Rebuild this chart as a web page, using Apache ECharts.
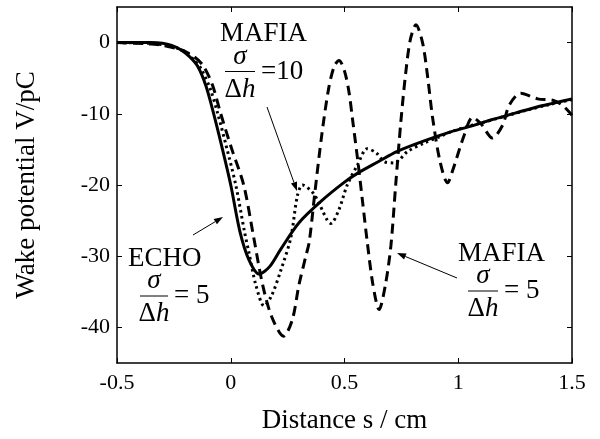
<!DOCTYPE html>
<html><head><meta charset="utf-8">
<script src="https://cdn.jsdelivr.net/npm/echarts@6/dist/echarts.min.js"></script>
<style>html,body{margin:0;padding:0;background:#fff}#c{width:600px;height:439px}</style>
</head><body><div id="c"></div>
<script>
// ECHO sigma/dh = 5 (solid)
const sEcho = [-0.5,-0.35,-0.3,-0.26,-0.22,-0.18,-0.146,-0.11,-0.075,-0.04,0,0.04,0.08,0.125,0.17,0.22,0.3,0.4,0.5,0.56,0.65,0.73,0.85,0.97,1.06,1.15,1.25,1.35,1.42,1.5];
const vEcho = [0,0,-0.1,-0.4,-1.0,-2.0,-3.3,-6,-10,-14.5,-20,-26.5,-30.5,-32.5,-31.5,-29,-25.3,-22.2,-19.6,-18.3,-16.7,-15.3,-13.8,-12.5,-11.7,-10.8,-9.9,-9,-8.5,-7.9];
// MAFIA sigma/dh = 10 (dotted)
const sMafia10 = [-0.5,-0.35,-0.3,-0.25,-0.2,-0.16,-0.13,-0.09,-0.057,-0.02,0.022,0.06,0.08,0.11,0.147,0.18,0.22,0.264,0.293,0.315,0.366,0.425,0.44,0.475,0.512,0.557,0.6,0.64,0.674,0.718,0.777,0.85,0.92,0.97,1.05,1.1,1.2,1.3,1.4,1.5];
const vMafia10 = [0,-0.1,-0.3,-0.6,-1.3,-2.5,-3.7,-6.5,-10,-14.5,-20,-26.5,-29.5,-34,-37,-35.5,-32,-27.4,-21.5,-20,-21.3,-25,-25.4,-23.5,-20,-17.2,-14.9,-15.5,-16.7,-16.9,-15.3,-14.1,-13.2,-12.5,-11.7,-11.3,-10.4,-9.5,-8.7,-8.0];
// MAFIA sigma/dh = 5 (dashed)
const sMafia5 = [-0.5,-0.35,-0.3,-0.22,-0.16,-0.12,-0.08,-0.044,0.005,0.057,0.1,0.14,0.18,0.232,0.27,0.3,0.33,0.345,0.37,0.4,0.43,0.455,0.476,0.5,0.52,0.535,0.56,0.58,0.6,0.625,0.652,0.68,0.704,0.725,0.748,0.77,0.79,0.814,0.843,0.865,0.887,0.92,0.953,0.975,1.026,1.063,1.1,1.15,1.195,1.224,1.275,1.349,1.415,1.458,1.5];
const vMafia5 = [0,-0.2,-0.4,-1,-2,-3.3,-6,-10,-15,-20,-27.2,-34,-38.5,-41.25,-39,-34,-30,-28,-21,-13,-6.5,-3.3,-2.5,-4,-7,-10.7,-17,-22.5,-28,-34,-37.5,-34,-28.5,-20,-11,-4,0.5,2.5,0,-4.7,-10.5,-16.7,-19.7,-18,-13,-10.5,-11.4,-13.4,-11.6,-8.8,-7.1,-7.9,-8.1,-8.8,-10.2];

const xTicks = [-0.5,0,0.5,1,1.5];
const yTicks = [-40,-30,-20,-10,0];
const xTitle = 'Distance s / cm';
const yTitle = 'Wake potential V/pC';

const pairs = (s,v)=>s.map((x,i)=>[x,v[i]]);
const FONT = '"Liberation Serif","Times New Roman",serif';
const chart = echarts.init(document.getElementById('c'), null, {renderer:'canvas'});

const tickStyle = {show:true,inside:true,length:5,lineStyle:{color:'#000',width:1}};
const axisCommon = {
  axisLine:{show:true,onZero:false,lineStyle:{color:'#000',width:1.5}},
  axisTick:tickStyle,
  splitLine:{show:false}
};

const option = {
  animation:false,
  backgroundColor:'#fff',
  grid:{left:117,right:28,top:7,bottom:73,containLabel:false},
  xAxis:[
    Object.assign({type:'value',position:'bottom',min:xTicks[0],max:xTicks[xTicks.length-1],interval:0.5,
      name:xTitle,nameLocation:'middle',nameGap:44,
      nameTextStyle:{fontFamily:FONT,fontSize:27,color:'#000'},
      axisLabel:{show:true,margin:9,fontFamily:FONT,fontSize:22,color:'#000',
        formatter:v=>String(v)}},axisCommon),
    Object.assign({type:'value',position:'top',min:xTicks[0],max:xTicks[xTicks.length-1],interval:0.5,
      axisLabel:{show:false}},axisCommon)
  ],
  yAxis:[
    Object.assign({type:'value',position:'left',min:-45,max:5,
      name:yTitle,nameLocation:'middle',nameGap:77,nameRotate:90,
      nameTextStyle:{fontFamily:FONT,fontSize:27,color:'#000'},
      axisLabel:{show:true,margin:7,fontFamily:FONT,fontSize:22,color:'#000',customValues:yTicks}
      },axisCommon,{axisTick:Object.assign({customValues:yTicks},tickStyle)}),
    Object.assign({type:'value',position:'right',min:-45,max:5,
      axisLabel:{show:false,customValues:yTicks}},axisCommon,
      {axisTick:Object.assign({customValues:yTicks},tickStyle)})
  ],
  series:[
    {type:'line',name:'ECHO',data:pairs(sEcho,vEcho),showSymbol:false,smooth:0.3,
     lineStyle:{color:'#000',width:3}},
    {type:'line',name:'MAFIA10',data:pairs(sMafia10,vMafia10),showSymbol:false,smooth:0.3,
     lineStyle:{color:'#000',width:3,type:[2.5,3.5],cap:'butt'}},
    {type:'line',name:'MAFIA5',data:pairs(sMafia5,vMafia5),showSymbol:false,smooth:0.3,
     lineStyle:{color:'#000',width:3,type:[10,6],cap:'butt'}}
  ]
};
chart.setOption(option);

// annotations
function txt(x,y,t,opts){
  return {type:'text',x:x,y:y,z:100,style:Object.assign({text:t,fill:'#000',font:'27px '+FONT,
    align:'left',verticalAlign:'middle'},opts||{})};
}
function frac(cx,lineY,x0,x1,eqX,eqText){
  return [
    {type:'text',x:cx,y:lineY-15,z:100,style:{text:'σ',fill:'#000',font:'italic 27px '+FONT,align:'center',verticalAlign:'middle'}},
    {type:'line',z:100,shape:{x1:x0,y1:lineY,x2:x1,y2:lineY},style:{stroke:'#000',lineWidth:1}},
    {type:'text',x:cx,y:lineY+18,z:100,style:{text:'{n|Δ}{i|h}',fill:'#000',align:'center',verticalAlign:'middle',
      rich:{n:{font:'27px '+FONT,fill:'#000'},i:{font:'italic 27px '+FONT,fill:'#000'}}}},
    txt(eqX,lineY,eqText)
  ];
}
function arrow(x0,y0,x1,y1){
  const L=9,W=3.2;
  const dx=x1-x0,dy=y1-y0,len=Math.hypot(dx,dy),ux=dx/len,uy=dy/len;
  const bx=x1-ux*L,by=y1-uy*L;
  return [
    {type:'line',z:100,shape:{x1:x0,y1:y0,x2:bx,y2:by},style:{stroke:'#000',lineWidth:1}},
    {type:'polygon',z:100,shape:{points:[[x1,y1],[bx-uy*W,by+ux*W],[bx+uy*W,by-ux*W]]},style:{fill:'#000'}}
  ];
}
const g = [].concat(
  [txt(220,34,'MAFIA')],
  frac(240,71.5,225,255,261,'=10'),
  arrow(267,107,297,191),
  [txt(128,259,'ECHO')],
  frac(154,296,140,168,174,'= 5'),
  arrow(193,235,223,217),
  [txt(458,254,'MAFIA')],
  frac(483,291,468,498,504,'= 5'),
  arrow(457,278,397,253)
);
chart.setOption({graphic:{elements:g}});
</script></body></html>
